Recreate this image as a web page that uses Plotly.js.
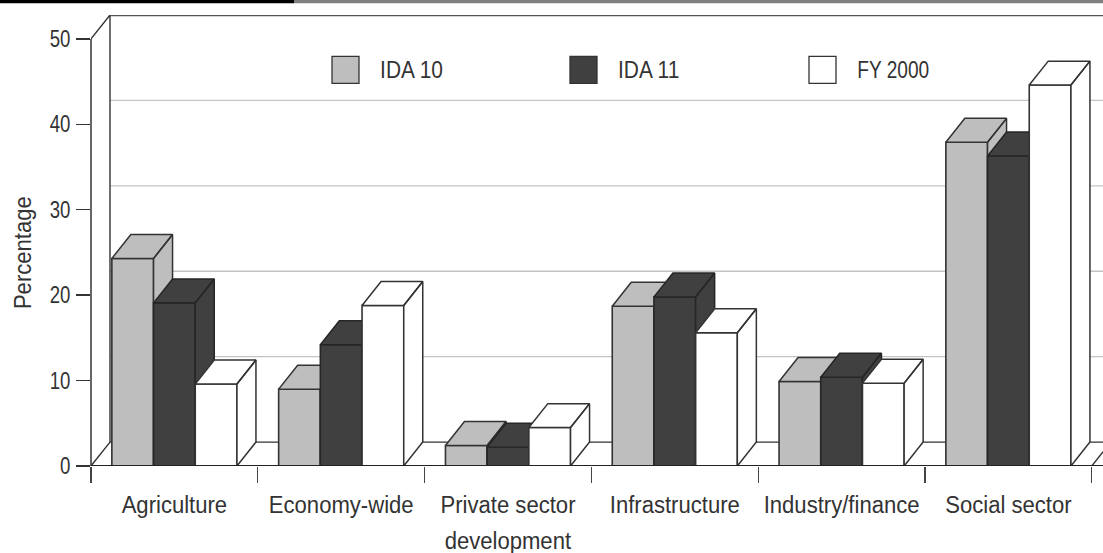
<!DOCTYPE html>
<html>
<head>
<meta charset="utf-8">
<script src="https://cdn.plot.ly/plotly-3.0.1.min.js"></script>
<style>html,body{margin:0;padding:0;background:#fff;overflow:hidden}</style>
</head>
<body>
<div id="chart" style="width:1103px;height:553px"></div>
<script>
// Sector shares of lending, percent
const sectors = ["Agriculture", "Economy-wide", "Private sector", "Infrastructure", "Industry/finance", "Social sector"];
const ida10 = [24.3, 9.0, 2.4, 18.7, 9.9, 37.9];
const ida11 = [19.1, 14.2, 2.2, 19.8, 10.4, 36.3];
const fy2000 = [9.6, 18.8, 4.5, 15.6, 9.7, 44.6];
const seriesNames = ["IDA 10", "IDA 11", "FY 2000"];
const yTicks = [0, 10, 20, 30, 40, 50];

const FONT = "Liberation Sans, Arial, sans-serif";
const INK = "#333333";
const SIZE = 23;

// Pseudo-3D depth, in axis units
const DX = 19 / 166.8;
const DY = 2.8;
const BAR = 0.25;
const XMAX = 1012 / 166.8;
const YMAX = 50 + DY;

const PLOT_H = 451;
const colors = ["#bebebe", "#404040", "#ffffff"];
const values = [ida10, ida11, fy2000];

function depthFaces(vals, j) {
  const x = [], y = [];
  vals.forEach((v, i) => {
    const l = i + 0.125 + j * BAR, r = l + BAR;
    // right side face
    x.push(r, r + DX, r + DX, r, r, null);
    y.push(0, DY, v + DY, v, 0, null);
    // top face
    x.push(l, l + DX, r + DX, r, l, null);
    y.push(v, v + DY, v + DY, v, v, null);
  });
  return {x, y};
}

const traces = [];

// Back wall, floor edge and shifted gridlines
const gridX = [], gridY = [];
yTicks.slice(1, 5).forEach(t => { gridX.push(DX, XMAX, null); gridY.push(t + DY, t + DY, null); });
traces.push({type: "scatter", mode: "lines", x: gridX, y: gridY, hoverinfo: "skip", showlegend: false,
  line: {color: "#c4c4c4", width: 1.4}, zorder: 0});
traces.push({type: "scatter", mode: "lines", hoverinfo: "skip", showlegend: false, zorder: 0,
  x: [0, DX, DX, XMAX, null, 0, DX, null, 6, 6 + DX],
  y: [50, 50 + DY, DY, DY, null, 0, DY, null, 0, DY],
  line: {color: INK, width: 1.4}});
traces.push({type: "scatter", mode: "lines", hoverinfo: "skip", showlegend: false, zorder: 0,
  x: [DX, XMAX], y: [50 + DY - 0.03, 50 + DY - 0.03], line: {color: "#555555", width: 1.8}});

// Bars: front faces, then their side and top faces, left to right
values.forEach((vals, j) => {
  const z = j + 1;
  const edge = j === 1 ? "#262626" : INK;
  traces.push({type: "bar", name: seriesNames[j], x: vals.map((_, i) => i + 0.25 + j * BAR), y: vals, width: BAR,
    marker: {color: colors[j], line: {color: edge, width: 1.6}}, showlegend: false, zorder: z});
  const f = depthFaces(vals, j);
  traces.push({type: "scatter", mode: "lines", x: f.x, y: f.y, fill: "toself", fillcolor: colors[j], hoverinfo: "skip",
    showlegend: false, line: {color: edge, width: 1.5, join: "miter"}, zorder: z});
});

// Key swatches
const keyX = [(345.5 - 91) / 166.8, (583.5 - 91) / 166.8, (822.5 - 91) / 166.8];
const keyY = (466 - 69.5) / 8.55;
const keyLabelShift = [29.5, 29.5, 25];
seriesNames.forEach((name, j) => {
  traces.push({type: "scatter", mode: "markers", x: [keyX[j]], y: [keyY], hoverinfo: "skip", showlegend: false, zorder: 5,
    marker: {symbol: "square", size: 27, color: colors[j], line: {color: INK, width: 1.3}}});
});

// Invisible trace carrying the boundary-tick axis
traces.push({type: "scatter", mode: "markers", x: [0], y: [0], xaxis: "x2", marker: {opacity: 0}, hoverinfo: "skip", showlegend: false});

const annotations = seriesNames.map((name, j) => ({
  x: keyX[j], y: keyY, xref: "x", yref: "y", xshift: keyLabelShift[j], text: name, showarrow: false, xanchor: "left", yanchor: "middle",
  font: {family: FONT, size: SIZE, color: INK}
}));
annotations.push({x: 2.5, y: 0, xref: "x", yref: "y", yshift: -75, text: "development", showarrow: false, xanchor: "center", yanchor: "middle",
  font: {family: FONT, size: SIZE, color: INK}});
annotations.push({x: -68 / 1012, y: 25, xref: "paper", yref: "y", text: "Percentage", textangle: -90, showarrow: false,
  xanchor: "center", yanchor: "middle", font: {family: FONT, size: SIZE, color: INK}});

const layout = {
  width: 1103, height: 553,
  margin: {l: 91, r: 0, t: 15, b: 87, pad: 0},
  paper_bgcolor: "#ffffff", plot_bgcolor: "rgba(0,0,0,0)",
  showlegend: false, bargap: 0,
  font: {family: FONT, size: SIZE, color: INK},
  xaxis: {range: [0, XMAX], tickmode: "array", tickvals: sectors.map((_, i) => i + 0.5), ticktext: sectors,
    ticks: "", showgrid: false, zeroline: false, showline: false,
    ticklabelstandoff: 23, tickfont: {family: FONT, size: SIZE, color: INK}},
  xaxis2: {range: [0, XMAX], overlaying: "x", anchor: "y", side: "bottom", tickmode: "array", tickvals: [0, 1, 2, 3, 4, 5, 6], ticktext: ["", "", "", "", "", "", ""],
    ticks: "outside", ticklen: 16, tickwidth: 1.3, tickcolor: "#444444", showgrid: false, zeroline: false, showline: false},
  yaxis: {range: [0, YMAX], tickmode: "array", tickvals: yTicks, ticks: "outside", ticklen: 14, tickwidth: 1.4, tickcolor: INK,
    showgrid: false, zeroline: false, showline: false,
    tickfont: {family: FONT, size: SIZE, color: INK}, ticklabelstandoff: 1},
  annotations,
  shapes: [
    {type: "line", xref: "paper", yref: "y", x0: 0, x1: 0, y0: 0, y1: 50, line: {color: INK, width: 1.5}},
    {type: "line", xref: "paper", yref: "y", x0: 0, x1: 1, y0: 0, y1: 0, line: {color: "#222222", width: 2}},
    {type: "rect", xref: "paper", yref: "paper", x0: -91 / 1012, x1: 203 / 1012, y0: 462.7 / PLOT_H, y1: 466 / PLOT_H, fillcolor: "#000000", line: {width: 0}},
    {type: "rect", xref: "paper", yref: "paper", x0: 203 / 1012, x1: 1, y0: 462.7 / PLOT_H, y1: 466 / PLOT_H, fillcolor: "#808080", line: {width: 0}}
  ]
};

// The typeface has narrow figures and slightly condensed letters
function condense(text) {
  const s = text.textContent;
  if (/^\d+$/.test(s)) return 0.81;
  if (/^FY/.test(s)) return 0.83;
  if (/^IDA/.test(s)) return 0.91;
  return 0.96;
}

const gd = document.getElementById("chart");
Plotly.newPlot(gd, traces, layout, {displayModeBar: false, staticPlot: true}).then(() => {
  gd.querySelectorAll("svg text").forEach(t => {
    const w = t.getComputedTextLength();
    if (!w) return;
    t.setAttribute("textLength", (w * condense(t)).toFixed(1));
    t.setAttribute("lengthAdjust", "spacingAndGlyphs");
  });
});
</script>
</body>
</html>
